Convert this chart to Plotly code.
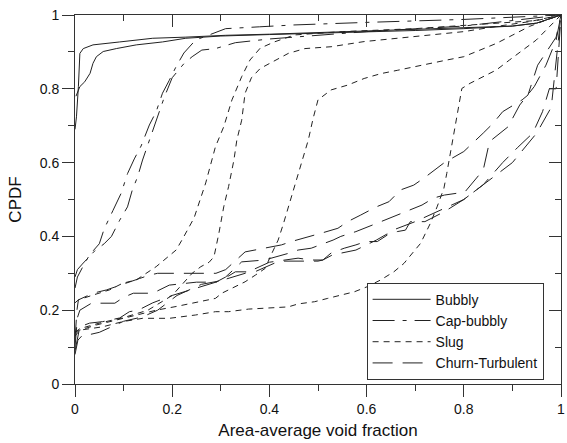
import plotly.graph_objects as go

# ---------------- data ----------------
bubbly_1_x = [0, 0.003, 0.007, 0.01, 0.017, 0.037, 0.092, 0.16, 0.228, 0.31, 0.4, 0.5, 0.6, 0.7, 0.8, 0.9, 0.95, 1.0]
bubbly_1_y = [0.69, 0.724, 0.806, 0.896, 0.909, 0.919, 0.927, 0.937, 0.94, 0.945, 0.948, 0.952, 0.956, 0.96, 0.965, 0.97, 0.978, 1.0]
bubbly_2_x = [0.002, 0.01, 0.02, 0.031, 0.037, 0.044, 0.058, 0.085, 0.126, 0.18, 0.228, 0.3, 0.4, 0.5, 0.6, 0.7, 0.8, 0.9, 0.95, 1.0]
bubbly_2_y = [0.78, 0.806, 0.819, 0.842, 0.869, 0.887, 0.901, 0.909, 0.919, 0.927, 0.937, 0.943, 0.947, 0.95, 0.955, 0.958, 0.963, 0.97, 0.978, 1.0]

cap_1_x = [0, 0.005, 0.015, 0.03, 0.05, 0.06, 0.078, 0.095, 0.108, 0.122, 0.136, 0.153, 0.167, 0.18, 0.194, 0.208, 0.224, 0.248, 0.276, 0.31, 0.38, 0.45, 0.6, 0.8, 1.0]
cap_1_y = [0.26, 0.29, 0.315, 0.35, 0.38, 0.42, 0.47, 0.517, 0.57, 0.61, 0.645, 0.702, 0.738, 0.788, 0.823, 0.86, 0.897, 0.932, 0.946, 0.963, 0.968, 0.973, 0.98, 0.988, 1.0]
cap_2_x = [0, 0.005, 0.015, 0.04, 0.06, 0.075, 0.092, 0.108, 0.118, 0.129, 0.139, 0.15, 0.16, 0.17, 0.184, 0.2, 0.224, 0.241, 0.261, 0.289, 0.33, 0.4, 0.5, 0.6, 0.8, 1.0]
cap_2_y = [0.29, 0.31, 0.325, 0.36, 0.38, 0.4, 0.444, 0.48, 0.526, 0.562, 0.607, 0.648, 0.688, 0.724, 0.778, 0.83, 0.868, 0.887, 0.905, 0.909, 0.925, 0.935, 0.945, 0.955, 0.97, 1.0]

slug_1_x = [0, 0.007, 0.037, 0.071, 0.098, 0.126, 0.167, 0.208, 0.22, 0.245, 0.269, 0.289, 0.306, 0.323, 0.343, 0.36, 0.381, 0.41, 0.452, 0.55, 0.7, 0.85, 0.95, 1.0]
slug_1_y = [0.22, 0.228, 0.241, 0.255, 0.273, 0.282, 0.318, 0.363, 0.39, 0.45, 0.545, 0.643, 0.697, 0.77, 0.833, 0.878, 0.91, 0.927, 0.946, 0.955, 0.963, 0.975, 0.985, 1.0]
slug_2_x = [0, 0.01, 0.05, 0.1, 0.15, 0.2, 0.241, 0.259, 0.276, 0.286, 0.296, 0.306, 0.316, 0.327, 0.333, 0.343, 0.35, 0.363, 0.381, 0.401, 0.439, 0.473, 0.527, 0.595, 0.663, 0.731, 0.8, 0.867, 0.935, 1.0]
slug_2_y = [0.14, 0.15, 0.165, 0.18, 0.2, 0.24, 0.3, 0.318, 0.33, 0.345, 0.408, 0.48, 0.535, 0.607, 0.661, 0.715, 0.788, 0.83, 0.855, 0.869, 0.896, 0.909, 0.914, 0.928, 0.937, 0.946, 0.955, 0.969, 0.982, 1.0]
slug_3_x = [0, 0.01, 0.044, 0.085, 0.126, 0.167, 0.208, 0.248, 0.289, 0.302, 0.323, 0.35, 0.371, 0.391, 0.405, 0.418, 0.429, 0.439, 0.449, 0.459, 0.469, 0.48, 0.49, 0.5, 0.527, 0.561, 0.595, 0.629, 0.663, 0.697, 0.731, 0.765, 0.8, 0.833, 0.867, 0.901, 0.935, 0.969, 1.0]
slug_3_y = [0.14, 0.146, 0.16, 0.173, 0.187, 0.2, 0.21, 0.22, 0.232, 0.246, 0.26, 0.277, 0.295, 0.313, 0.354, 0.39, 0.435, 0.48, 0.526, 0.571, 0.616, 0.661, 0.72, 0.77, 0.797, 0.81, 0.828, 0.841, 0.85, 0.86, 0.869, 0.878, 0.887, 0.905, 0.923, 0.946, 0.969, 0.986, 1.0]
slug_4_x = [0, 0.01, 0.057, 0.098, 0.139, 0.194, 0.248, 0.289, 0.316, 0.357, 0.398, 0.439, 0.459, 0.493, 0.52, 0.548, 0.575, 0.602, 0.629, 0.656, 0.677, 0.697, 0.711, 0.721, 0.731, 0.745, 0.759, 0.765, 0.776, 0.786, 0.796, 0.813, 0.84, 0.867, 0.894, 0.922, 0.949, 0.976, 1.0]
slug_4_y = [0.13, 0.146, 0.155, 0.169, 0.178, 0.178, 0.187, 0.196, 0.196, 0.203, 0.206, 0.209, 0.217, 0.223, 0.232, 0.241, 0.25, 0.264, 0.282, 0.304, 0.327, 0.359, 0.381, 0.408, 0.435, 0.48, 0.53, 0.571, 0.652, 0.724, 0.801, 0.815, 0.833, 0.851, 0.878, 0.905, 0.932, 0.968, 1.0]

churn_1_x = [0, 0.004, 0.007, 0.037, 0.065, 0.092, 0.133, 0.153, 0.17, 0.29, 0.31, 0.35, 0.38, 0.425, 0.445, 0.48, 0.51, 0.541, 0.561, 0.588, 0.62, 0.646, 0.67, 0.697, 0.72, 0.76, 0.8, 0.84, 0.86, 0.88, 0.92, 0.932, 0.952, 0.97, 0.99, 1.0]
churn_1_y = [0.12, 0.2, 0.228, 0.246, 0.255, 0.268, 0.286, 0.295, 0.3, 0.3, 0.31, 0.358, 0.365, 0.377, 0.386, 0.4, 0.41, 0.422, 0.44, 0.458, 0.48, 0.494, 0.526, 0.539, 0.56, 0.6, 0.63, 0.68, 0.706, 0.738, 0.77, 0.783, 0.864, 0.9, 0.94, 1.0]
churn_2_x = [0, 0.005, 0.01, 0.034, 0.082, 0.1, 0.12, 0.16, 0.194, 0.25, 0.29, 0.31, 0.343, 0.39, 0.439, 0.459, 0.486, 0.531, 0.547, 0.578, 0.622, 0.663, 0.714, 0.738, 0.76, 0.802, 0.84, 0.853, 0.874, 0.891, 0.915, 0.945, 0.969, 0.99, 1.0]
churn_2_y = [0.1, 0.18, 0.2, 0.219, 0.219, 0.235, 0.246, 0.246, 0.268, 0.276, 0.276, 0.29, 0.331, 0.336, 0.354, 0.363, 0.368, 0.39, 0.4, 0.413, 0.436, 0.458, 0.485, 0.504, 0.512, 0.52, 0.58, 0.657, 0.68, 0.697, 0.756, 0.806, 0.864, 0.932, 1.0]
churn_3_x = [0, 0.006, 0.016, 0.027, 0.05, 0.1, 0.139, 0.17, 0.21, 0.26, 0.3, 0.33, 0.37, 0.42, 0.5, 0.51, 0.527, 0.554, 0.578, 0.598, 0.622, 0.643, 0.663, 0.68, 0.69, 0.72, 0.76, 0.8, 0.84, 0.88, 0.91, 0.942, 0.962, 0.976, 0.99, 1.0]
churn_3_y = [0.08, 0.119, 0.133, 0.133, 0.14, 0.17, 0.182, 0.2, 0.24, 0.27, 0.28, 0.304, 0.304, 0.333, 0.333, 0.336, 0.355, 0.368, 0.377, 0.386, 0.386, 0.404, 0.413, 0.417, 0.44, 0.44, 0.467, 0.5, 0.54, 0.6, 0.64, 0.68, 0.738, 0.8, 0.8, 1.0]
churn_4_x = [0, 0.01, 0.03, 0.057, 0.092, 0.112, 0.13, 0.16, 0.2, 0.25, 0.3, 0.35, 0.4, 0.459, 0.486, 0.51, 0.53, 0.578, 0.62, 0.66, 0.7, 0.75, 0.8, 0.85, 0.9, 0.95, 0.98, 1.0]
churn_4_y = [0.09, 0.155, 0.165, 0.169, 0.179, 0.196, 0.2, 0.22, 0.24, 0.26, 0.28, 0.3, 0.33, 0.341, 0.336, 0.336, 0.35, 0.363, 0.39, 0.42, 0.44, 0.47, 0.5, 0.55, 0.6, 0.68, 0.75, 1.0]

groups = [
    ("Bubbly", "solid", [(bubbly_1_x, bubbly_1_y), (bubbly_2_x, bubbly_2_y)]),
    ("Cap-bubbly", "22px,8px,4px,8px", [(cap_1_x, cap_1_y), (cap_2_x, cap_2_y)]),
    ("Slug", "6px,5px", [(slug_1_x, slug_1_y), (slug_2_x, slug_2_y), (slug_3_x, slug_3_y), (slug_4_x, slug_4_y)]),
    ("Churn-Turbulent", "20px,10px", [(churn_1_x, churn_1_y), (churn_2_x, churn_2_y), (churn_3_x, churn_3_y), (churn_4_x, churn_4_y)]),
]

x_ticks = [0, 0.2, 0.4, 0.6, 0.8, 1]
y_ticks = [0, 0.2, 0.4, 0.6, 0.8, 1]

FONT = "Arial, 'Liberation Sans', sans-serif"
LINE = "#222222"
AX = "#333333"

fig = go.Figure()
for name, dash, curves in groups:
    for i, (xs, ys) in enumerate(curves):
        fig.add_trace(go.Scatter(
            x=xs, y=ys, mode="lines", name=name, legendgroup=name,
            showlegend=(i == 0),
            line=dict(color=LINE, width=1, dash=dash),
        ))

# invisible trace so the mirror (top / right) axes get drawn
fig.add_trace(go.Scatter(x=[0, 1], y=[0, 1], xaxis="x2", yaxis="y2", mode="markers",
                         marker=dict(size=1, opacity=0), showlegend=False, hoverinfo="skip"))

def axis(ticks, vals, **kw):
    d = dict(range=[0, 1], showgrid=False, zeroline=False, showline=True,
             linecolor=AX, linewidth=1, tickcolor=AX, tickwidth=1, ticklen=12,
             ticks=ticks, tickmode="array", tickvals=vals,
             minor=dict(ticks=ticks, ticklen=6, tickmode="linear", tick0=0, dtick=0.1,
                        tickcolor=AX, tickwidth=1),
             tickfont=dict(family=FONT, size=14, color="#111111"))
    d.update(kw)
    return d

fig.update_layout(
    width=567, height=443,
    margin=dict(l=75, r=2, t=15, b=59),
    plot_bgcolor="white", paper_bgcolor="white",
    font=dict(family=FONT, size=14, color="#111111"),
    xaxis=axis("outside", x_ticks, ticklabeloverflow="allow",
               title=dict(text="Area-average void fraction", font=dict(size=17), standoff=8)),
    yaxis=axis("outside", y_ticks,
               title=dict(text="CPDF", font=dict(size=17), standoff=13)),
    xaxis2=axis("inside", x_ticks, overlaying="x", side="top", anchor="y2",
                showticklabels=False),
    yaxis2=axis("inside", y_ticks, overlaying="y", side="right", anchor="x2",
                showticklabels=False),
    legend=dict(x=0.6, y=0.2745, xanchor="left", yanchor="top",
                bordercolor=AX, borderwidth=1, bgcolor="white",
                font=dict(family=FONT, size=14, color="#111111"),
                tracegroupgap=0, itemwidth=58),
    showlegend=True,
)

fig.write_html("out.html")
